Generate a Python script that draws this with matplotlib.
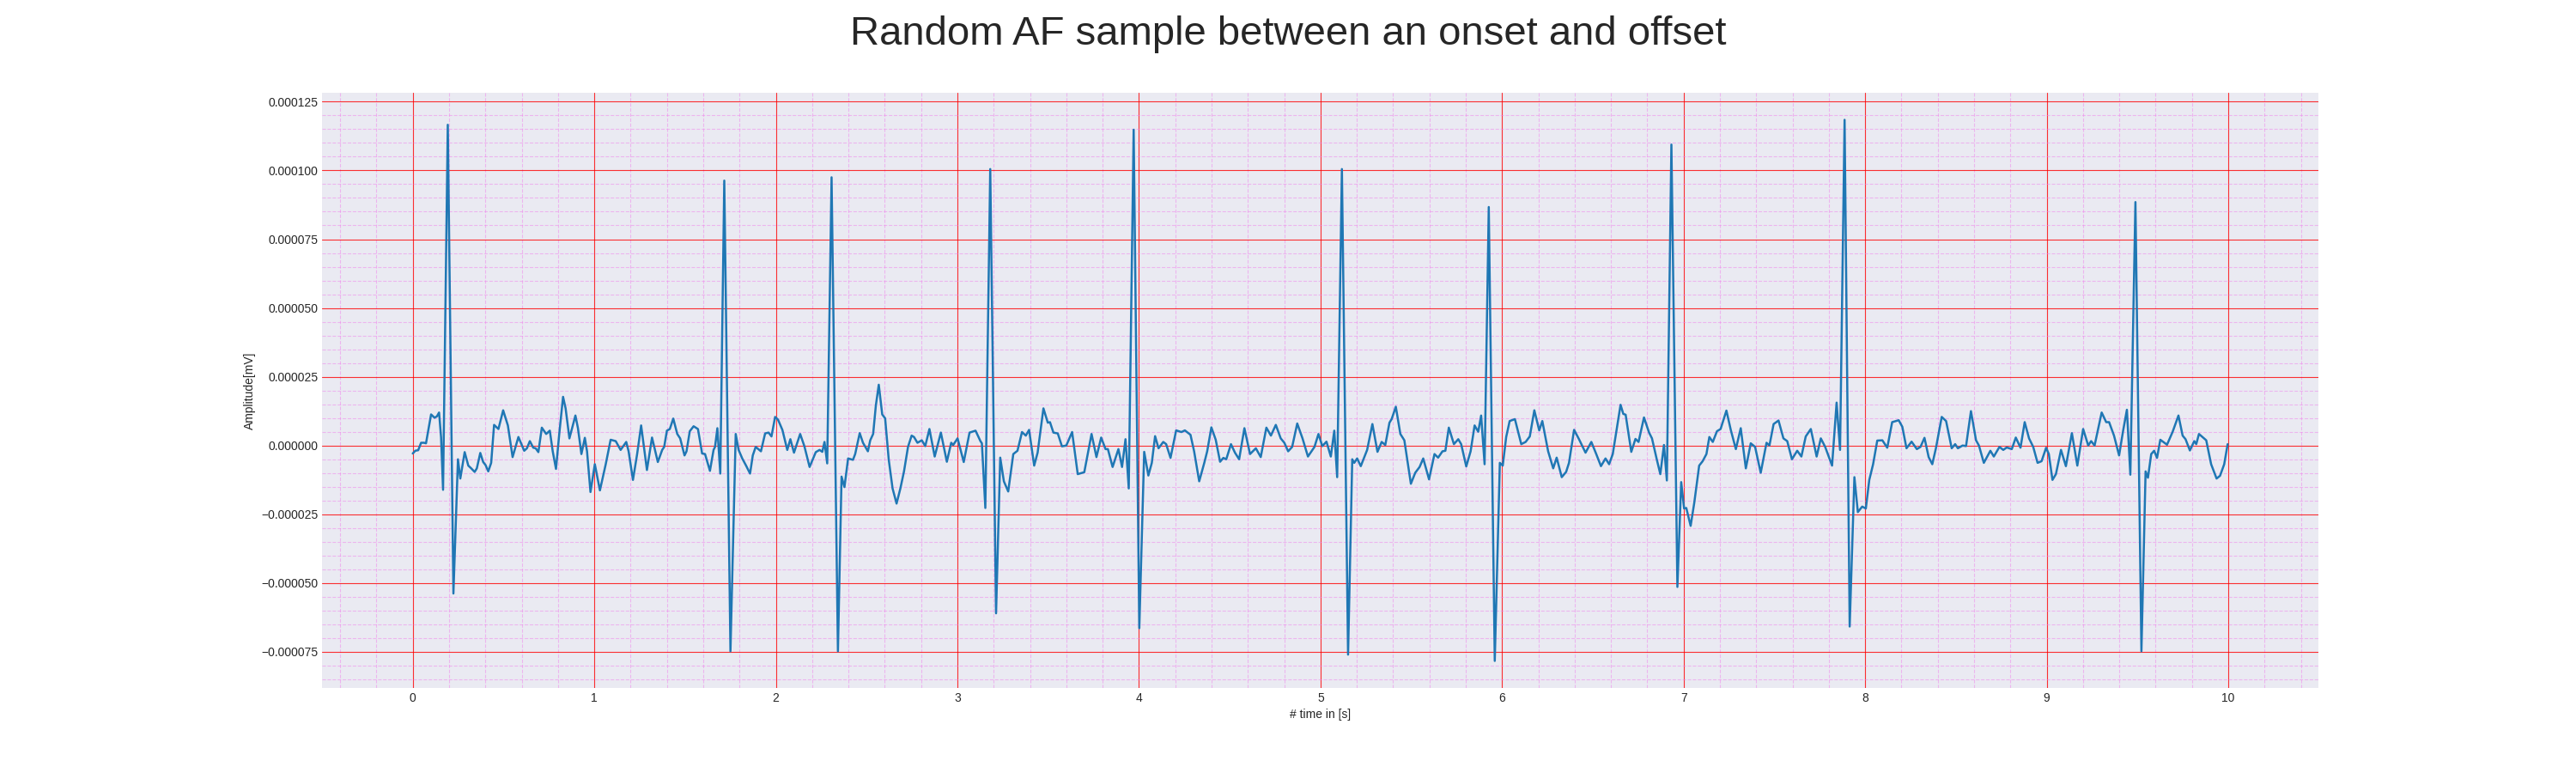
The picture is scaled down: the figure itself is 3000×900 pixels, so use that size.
import numpy as np
import matplotlib
matplotlib.use("Agg")
import matplotlib.pyplot as plt
from matplotlib.ticker import AutoMinorLocator, MultipleLocator

# time [s] and amplitude (in 1e-6 mV)
time_s = [
    0.000, 0.014, 0.030, 0.046, 0.062, 0.073, 0.082, 0.101, 0.120, 0.133, 0.145, 0.156, 0.167,
    0.193, 0.224, 0.249, 0.262, 0.286, 0.306, 0.322, 0.341, 0.353, 0.372, 0.388, 0.401, 0.416,
    0.432, 0.448, 0.472, 0.498, 0.524, 0.550, 0.582, 0.614, 0.629, 0.645, 0.664, 0.677, 0.692,
    0.711, 0.735, 0.755, 0.771, 0.789, 0.807, 0.828, 0.842, 0.863, 0.896, 0.910, 0.929, 0.948,
    0.960, 0.979, 1.003, 1.031, 1.063, 1.090, 1.118, 1.145, 1.176, 1.189, 1.213, 1.236, 1.258,
    1.290, 1.318, 1.350, 1.374, 1.385, 1.400, 1.416, 1.435, 1.457, 1.473, 1.497, 1.508, 1.526,
    1.547, 1.571, 1.594, 1.610, 1.637, 1.657, 1.665, 1.678, 1.694, 1.716, 1.750, 1.779, 1.795,
    1.815, 1.836, 1.858, 1.873, 1.889, 1.918, 1.941, 1.960, 1.976, 1.996, 2.012, 2.036, 2.063,
    2.080, 2.100, 2.134, 2.157, 2.186, 2.220, 2.241, 2.256, 2.268, 2.283, 2.307, 2.342, 2.362,
    2.378, 2.398, 2.425, 2.437, 2.462, 2.480, 2.507, 2.520, 2.536, 2.551, 2.567, 2.586, 2.602,
    2.622, 2.643, 2.665, 2.686, 2.706, 2.728, 2.748, 2.761, 2.780, 2.804, 2.823, 2.846, 2.875,
    2.909, 2.942, 2.966, 2.977, 3.001, 3.035, 3.067, 3.100, 3.127, 3.135, 3.154, 3.181, 3.213,
    3.236, 3.256, 3.280, 3.308, 3.331, 3.356, 3.377, 3.395, 3.423, 3.442, 3.474, 3.498, 3.510,
    3.529, 3.553, 3.576, 3.600, 3.632, 3.663, 3.699, 3.739, 3.766, 3.792, 3.816, 3.829, 3.855,
    3.887, 3.907, 3.926, 3.944, 3.971, 4.002, 4.029, 4.052, 4.071, 4.089, 4.108, 4.134, 4.150,
    4.174, 4.205, 4.234, 4.253, 4.284, 4.304, 4.332, 4.360, 4.376, 4.399, 4.423, 4.447, 4.465,
    4.481, 4.507, 4.529, 4.552, 4.581, 4.612, 4.644, 4.671, 4.702, 4.727, 4.754, 4.781, 4.801,
    4.822, 4.844, 4.872, 4.901, 4.931, 4.967, 4.989, 5.010, 5.033, 5.057, 5.076, 5.092, 5.118,
    5.152, 5.175, 5.186, 5.202, 5.222, 5.257, 5.286, 5.314, 5.337, 5.357, 5.380, 5.392, 5.415,
    5.440, 5.462, 5.498, 5.522, 5.546, 5.566, 5.598, 5.628, 5.648, 5.672, 5.688, 5.707, 5.735,
    5.759, 5.775, 5.803, 5.827, 5.849, 5.869, 5.885, 5.904, 5.927, 5.960, 5.988, 6.004, 6.023,
    6.042, 6.071, 6.106, 6.130, 6.153, 6.178, 6.205, 6.222, 6.254, 6.282, 6.301, 6.329, 6.353,
    6.369, 6.397, 6.424, 6.460, 6.492, 6.519, 6.545, 6.570, 6.590, 6.610, 6.653, 6.668, 6.681,
    6.712, 6.735, 6.752, 6.782, 6.810, 6.826, 6.853, 6.872, 6.892, 6.908, 6.933, 6.966, 6.987,
    7.003, 7.015, 7.039, 7.059, 7.086, 7.105, 7.126, 7.142, 7.161, 7.184, 7.204, 7.236, 7.260,
    7.288, 7.315, 7.343, 7.370, 7.394, 7.425, 7.457, 7.473, 7.496, 7.523, 7.550, 7.571, 7.597,
    7.626, 7.649, 7.673, 7.701, 7.733, 7.756, 7.780, 7.818, 7.843, 7.862, 7.887, 7.915, 7.941,
    7.960, 7.984, 8.004, 8.023, 8.044, 8.067, 8.095, 8.122, 8.149, 8.185, 8.205, 8.228, 8.256,
    8.285, 8.305, 8.327, 8.350, 8.370, 8.390, 8.422, 8.446, 8.477, 8.496, 8.511, 8.537, 8.556,
    8.583, 8.611, 8.627, 8.654, 8.690, 8.709, 8.740, 8.761, 8.780, 8.808, 8.830, 8.856, 8.879,
    8.903, 8.926, 8.950, 8.972, 8.997, 9.012, 9.032, 9.051, 9.079, 9.106, 9.139, 9.169, 9.201,
    9.229, 9.245, 9.264, 9.303, 9.328, 9.344, 9.371, 9.399, 9.422, 9.442, 9.461, 9.489, 9.522,
    9.545, 9.558, 9.576, 9.592, 9.608, 9.626, 9.663, 9.694, 9.726, 9.749, 9.765, 9.789, 9.813,
    9.824, 9.839, 9.879, 9.906, 9.936, 9.955, 9.978, 9.997,
]
amp_e6 = [
    -2.9, -1.9, -1.7, 1.0, 1.0, 0.8, 4.2, 11.3, 10.1, 10.6, 12.0, 3.0, -16.1,
    116.6, -53.8, -5.0, -12.0, -2.4, -7.3, -8.3, -9.6, -8.3, -2.7, -6.0, -7.1, -9.4,
    -6.3, 7.5, 6.0, 12.8, 7.3, -4.2, 3.1, -1.9, -1.0, 1.6, -0.8, -1.0, -2.4,
    6.5, 4.2, 5.4, -2.1, -8.5, 4.2, 17.7, 13.5, 2.6, 10.9, 6.3, -3.1, 2.8,
    -2.1, -16.9, -6.8, -16.3, -6.8, 2.1, 1.6, -1.6, 1.3, -2.1, -12.5, -3.1, 7.3,
    -8.9, 2.9, -6.0, -1.6, -0.5, 5.4, 6.0, 9.8, 4.2, 2.6, -3.6, -2.1, 5.2,
    7.0, 6.0, -2.9, -3.1, -9.2, -1.6, -0.5, 6.3, -10.2, 96.3, -74.8, 4.2, -1.6,
    -4.7, -7.3, -10.2, -3.6, -0.5, -2.1, 4.4, 4.7, 3.3, 10.4, 9.4, 5.7, -1.6,
    2.3, -2.6, 4.2, -0.2, -7.8, -2.4, -1.6, -2.3, 1.3, -6.5, 97.5, -74.8, -11.3,
    -15.1, -4.7, -5.2, -3.1, 4.5, 1.0, -2.1, 1.9, 4.2, 14.6, 22.1, 11.3, 9.9,
    -5.2, -15.6, -21.1, -15.6, -9.4, -0.5, 3.6, 3.1, 1.0, 1.9, -0.2, 6.0, -4.0,
    4.7, -5.9, 1.0, 0.2, 2.6, -6.0, 4.7, 5.4, 1.6, 0.8, -22.7, 100.5, -61.0,
    -4.4, -13.0, -16.7, -3.1, -1.9, 4.9, 3.6, 5.7, -7.3, -2.6, 13.5, 8.3, 8.5,
    4.7, 4.4, -0.3, 0.0, 4.9, -10.4, -9.7, 4.2, -4.2, 2.9, -1.3, -1.3, -7.8,
    -1.3, -7.8, 2.3, -15.6, 114.8, -66.4, -2.3, -10.9, -6.3, 3.4, -1.0, 1.3, 0.5,
    -4.5, 5.5, 4.9, 5.5, 3.9, -2.1, -13.0, -6.3, -2.1, 6.6, 2.1, -5.9, -4.5,
    -5.0, 0.5, -2.6, -5.0, 6.3, -3.1, -1.0, -4.2, 6.5, 3.6, 7.5, 2.6, 1.0,
    -2.1, -0.5, 8.0, 2.6, -4.0, -0.5, 4.2, -0.2, 1.4, -4.0, 5.4, -11.5, 100.5,
    -76.0, -5.0, -6.3, -4.7, -7.5, -1.6, 7.8, -2.3, 1.3, 0.2, 8.3, 9.6, 14.1,
    4.2, 1.9, -13.9, -9.9, -7.8, -4.7, -12.3, -3.1, -4.4, -2.1, -1.9, 6.5, 0.5,
    2.3, 0.5, -7.6, -2.1, 7.3, 5.0, 10.9, -6.8, 86.7, -78.3, -6.3, -7.3, 3.1,
    8.9, 9.6, 0.5, 1.3, 3.3, 12.8, 5.5, 8.9, -2.1, -8.3, -4.4, -11.5, -9.6,
    -6.3, 5.7, 2.3, -2.6, 1.3, -3.1, -7.5, -4.7, -6.8, -3.1, 14.8, 11.5, 11.2,
    -2.3, 2.4, 1.3, 10.2, 4.7, 2.6, -5.2, -10.4, 0.2, -12.7, 109.4, -51.4, -13.3,
    -22.9, -22.7, -29.2, -20.8, -7.3, -5.7, -3.1, 3.1, 1.3, 5.2, 6.0, 12.7, 5.7,
    -1.3, 6.3, -8.3, 0.8, -0.5, -9.9, 1.0, 0.0, 7.8, 9.1, 2.6, 1.6, -5.0,
    -1.9, -4.0, 3.3, 6.0, -4.0, 2.6, -0.5, -7.3, 15.6, -1.6, 118.4, -65.8, -11.5,
    -24.2, -22.2, -22.9, -12.5, -6.8, 1.8, 1.9, -0.8, 8.5, 9.2, 6.8, -1.0, 1.4,
    -1.3, -0.5, 2.8, -4.2, -6.8, -1.0, 10.4, 8.9, -1.0, 0.5, -1.0, 0.0, -0.2,
    12.5, 1.9, 0.0, -6.3, -1.9, -4.0, -0.5, -1.6, -0.7, -1.3, 2.9, -0.8, 8.5,
    2.6, -0.5, -6.3, -5.7, -0.8, -3.1, -12.5, -10.4, -1.6, -7.5, 4.5, -7.3, 6.0,
    0.0, 1.6, 0.0, 12.0, 8.5, 8.5, 3.6, -3.6, 5.7, 13.0, -10.6, 88.5, -74.8,
    -9.4, -11.7, -3.1, -1.9, -4.5, 2.1, 0.3, 5.0, 10.9, 3.6, 2.3, -1.8, 1.6,
    0.5, 4.2, 1.9, -6.8, -12.0, -11.0, -6.8, 0.5,
]

t = np.array(time_s)
amplitude = np.array(amp_e6) * 1e-6

plt.style.use('seaborn-v0_8-darkgrid')

fig, ax = plt.subplots(figsize=(30, 9))
ax.plot(t, amplitude, color="#1f77b4", linewidth=1.8)

# ECG paper style grid: 1 s major, 0.2 s minor
ax.xaxis.set_major_locator(MultipleLocator(1))
ax.xaxis.set_minor_locator(AutoMinorLocator(5))
ax.yaxis.set_minor_locator(AutoMinorLocator(5))
ax.grid(which='major', linestyle='-', linewidth=0.8, color='red', alpha=0.8)
ax.grid(which='minor', linestyle='--', linewidth=0.8, color='violet', alpha=0.5)

ax.set_xlabel("# time in [s]")
ax.set_ylabel("Amplitude[mV]")
fig.suptitle("Random AF sample between an onset and offset", fontsize=34)

plt.savefig("out.png", dpi=100)
